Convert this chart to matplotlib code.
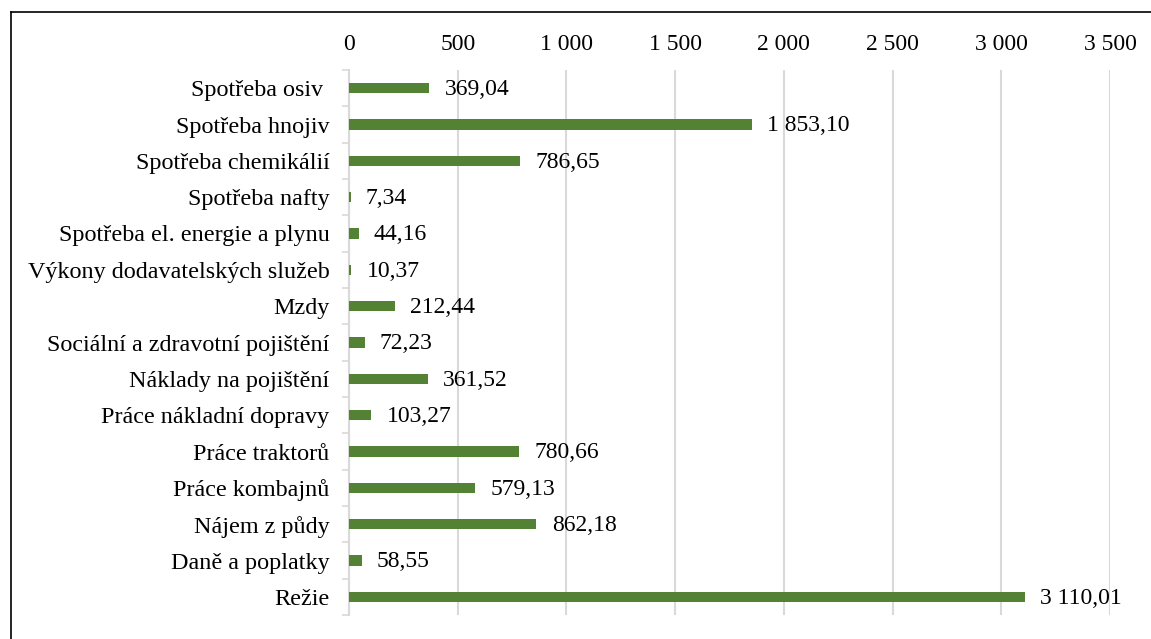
import matplotlib
matplotlib.use("Agg")
import matplotlib.pyplot as plt
from matplotlib.lines import Line2D
from matplotlib.ticker import FixedLocator, FuncFormatter
import numpy as np

categories = [
    "Spotřeba osiv ",
    "Spotřeba hnojiv",
    "Spotřeba chemikálií",
    "Spotřeba nafty",
    "Spotřeba el. energie a plynu",
    "Výkony dodavatelských služeb",
    "Mzdy",
    "Sociální a zdravotní pojištění",
    "Náklady na pojištění",
    "Práce nákladní dopravy",
    "Práce traktorů",
    "Práce kombajnů",
    "Nájem z půdy",
    "Daně a poplatky",
    "Režie",
]
values = [369.04, 1853.10, 786.65, 7.34, 44.16, 10.37, 212.44, 72.23,
          361.52, 103.27, 780.66, 579.13, 862.18, 58.55, 3110.01]
x_ticks = [0, 500, 1000, 1500, 2000, 2500, 3000, 3500]

BAR_COLOR = "#548235"
GRID_COLOR = "#d9d9d9"
FONT_SIZE = 17
CAT_FONT_SIZE = 17.4

plt.rcParams["font.family"] = ["Liberation Serif", "DejaVu Serif"]


def cz_number(v, decimals=0):
    s = f"{v:,.{decimals}f}"
    return s.replace(",", " ").replace(".", ",")


fig = plt.figure(figsize=(11.51, 6.39), dpi=100)
ax = fig.add_axes([349 / 1151, 1 - 615 / 639, (1110 - 349) / 1151, (615 - 70) / 639])

y = np.arange(len(categories))
ax.barh(y, values, height=0.29, color=BAR_COLOR, zorder=3)

for yi, v in zip(y, values):
    ax.annotate(cz_number(v, 2), xy=(v, yi), xytext=(11, -1),
                textcoords="offset points", ha="left", va="center",
                fontsize=FONT_SIZE, color="black", zorder=4)

ax.set_xlim(0, 3500)
ax.set_ylim(len(categories) - 0.5, -0.5)

ax.xaxis.set_major_locator(FixedLocator(x_ticks))
ax.xaxis.set_major_formatter(FuncFormatter(lambda v, p: cz_number(v)))
ax.xaxis.tick_top()
ax.tick_params(axis="x", length=0, pad=10.5, labelsize=FONT_SIZE, colors="black")
ax.grid(axis="x", color=GRID_COLOR, linewidth=1.5, zorder=0)

ax.set_yticks(y)
ax.set_yticklabels(categories)
ax.set_yticks(np.arange(len(categories) + 1) - 0.5, minor=True)
ax.tick_params(axis="y", which="major", length=0, pad=14, labelsize=CAT_FONT_SIZE)
ax.tick_params(axis="y", which="minor", length=5, width=1.2, color=GRID_COLOR)

for side in ("top", "right", "bottom"):
    ax.spines[side].set_visible(False)
ax.spines["left"].set_color(GRID_COLOR)
ax.spines["left"].set_linewidth(1.5)

# outer frame (top and left edges)
fig.add_artist(Line2D([11 / 1151, 1.0], [1 - 12 / 639, 1 - 12 / 639],
                      transform=fig.transFigure, color="black", linewidth=1.2))
fig.add_artist(Line2D([11 / 1151, 11 / 1151], [0.0, 1 - 12 / 639],
                      transform=fig.transFigure, color="black", linewidth=1.2))

fig.savefig("out.png", dpi=100)
